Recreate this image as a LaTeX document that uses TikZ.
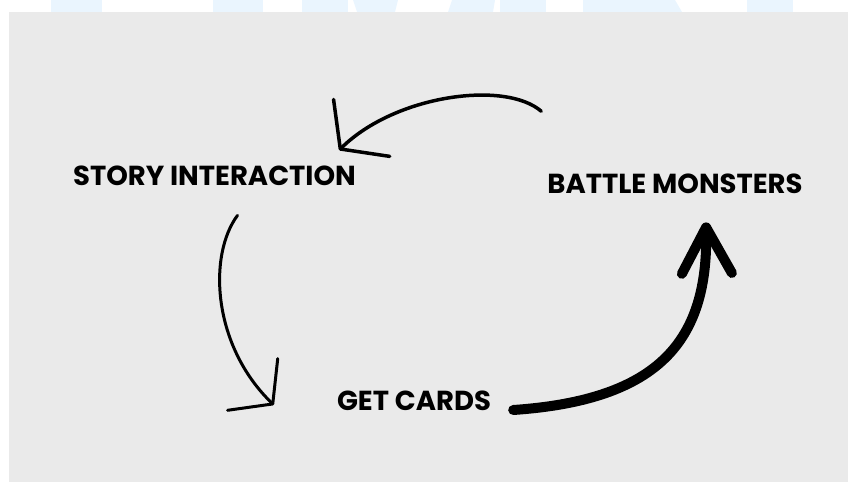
\documentclass[tikz,border=0pt]{standalone}
\usepackage{fontspec}
\setmainfont{Poppins}
\usetikzlibrary{arrows.meta, calc}
\definecolor{panel}{HTML}{EAEAEA}
\definecolor{wmblue}{HTML}{EAF5FE}

\begin{document}
\begin{tikzpicture}[x=1pt, y=-1pt, every node/.style={inner sep=0pt, anchor=base, font=\bfseries\fontsize{27.5}{27.5}\selectfont}, flow/.style={line cap=round, line join=round}]
\useasboundingbox (0,0) rectangle (848,482);
% faint letters behind the panel
\fill[wmblue] (51,0) rectangle (102,12);
\fill[wmblue] (213,0) rectangle (263,12);
\fill[wmblue] (302,0) rectangle (348,12);
\fill[wmblue] (353,0) -- (398,0) -- (395,12) -- (357,12) -- cycle;
\fill[wmblue] (452,0) -- (495,0) -- (493,12) -- (448,12) -- cycle;
\fill[wmblue] (500,0) rectangle (546,12);
\fill[wmblue] (583,0) -- (675,0) -- (682,12) -- (583,12) -- cycle;
\fill[wmblue] (747,0) rectangle (793,12);
\fill[panel] (9,12) rectangle (848,482);

\node (story) at (214.5,185) {STORY INTERACTION};
\node (battle) at (675,193) {BATTLE MONSTERS};
\node (cards) at (414,410) {GET CARDS};

\draw[flow, line width=3.5pt, -{Straight Barb[length=30pt,width=80pt,round]}] ($(battle.north west)+(-6,-62)$) .. controls (505,80) and (395,95) .. ($(story.north east)+(-17,-15)$);
\draw[flow, line width=3pt, -{Straight Barb[length=28pt,width=72pt,round]}] ($(story.south)+(23,30)$) .. controls (208,255) and (212,345) .. ($(cards.base west)+(-63,-5)$);
\draw[flow, line width=10pt, -{Straight Barb[length=46pt,width=50pt,round]}] ($(cards.base east)+(22,0)$) .. controls (660,400) and (708,340) .. ($(battle.south)+(31,29)$);
\end{tikzpicture}
\end{document}
